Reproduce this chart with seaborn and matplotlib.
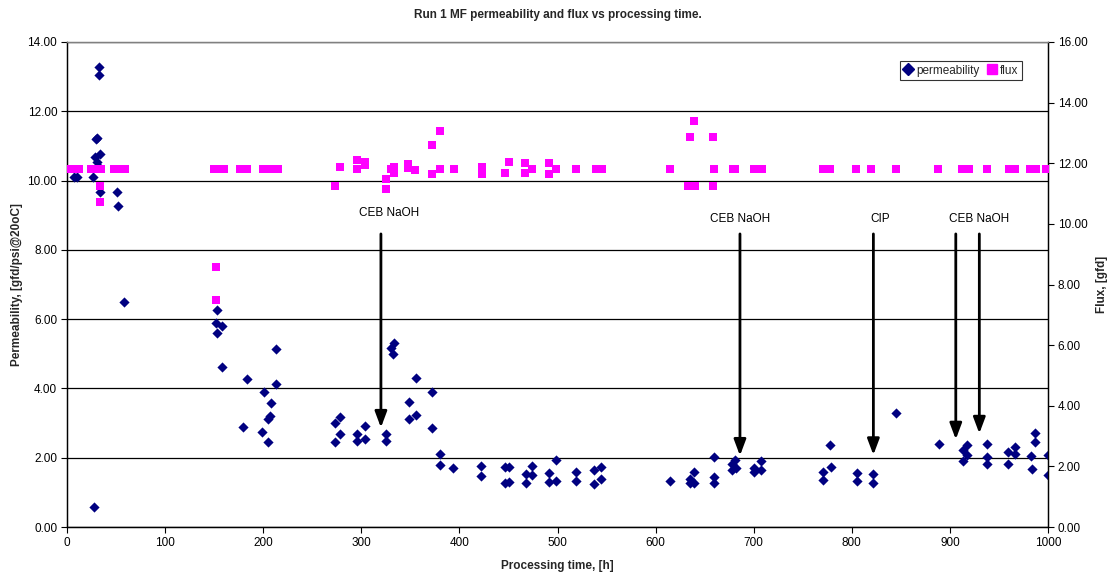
import matplotlib
matplotlib.use("Agg")
import matplotlib.pyplot as plt
import seaborn as sns
import pandas as pd
from matplotlib.lines import Line2D

# ---- data ----
perm_time = [7, 10, 26, 28, 32.5, 32.5, 31, 30, 29, 33.6, 31, 31.8, 33.9, 50.9, 52.2, 58,
             153.4, 152, 158.5, 152.4, 212.8, 158, 183.6, 213.5, 200.6, 208.4, 207, 205, 179.2, 198.9, 205.4,
             273, 278, 278, 273.6, 295.3, 295.3, 303.5, 303.5, 325, 325, 330, 333.3, 332.7, 355.4, 348.6,
             372.4, 348.6, 355.4, 372.4, 380, 380, 393.8, 422, 422,
             446, 451, 446, 451, 467.4, 474, 474, 467.4, 491, 498, 491, 498, 519, 519, 537.7, 544.5, 544.5, 537.7,
             615, 639.5, 634.7, 634.7, 639.5, 659.2, 659.2, 659.2, 681, 678, 678, 682, 707.7, 700, 700, 707.7,
             778, 778.7, 770.6, 770.6, 805, 805, 821.5, 821.5, 845, 888.6, 913, 917.8, 913, 917.8,
             938, 938, 937.5, 959.6, 966.4, 966.4, 959.6, 987, 987, 982.4, 983.4, 1000, 1000]
perm_value = [10.09, 10.09, 10.11, 0.59, 13.29, 13.05, 11.22, 11.19, 10.69, 10.76, 10.55, 10.42, 9.68, 9.66, 9.28, 6.50,
              6.25, 5.88, 5.80, 5.59, 5.13, 4.61, 4.26, 4.12, 3.90, 3.57, 3.21, 3.11, 2.90, 2.75, 2.46,
              3.01, 3.17, 2.68, 2.45, 2.68, 2.47, 2.92, 2.55, 2.68, 2.49, 5.16, 5.32, 4.99, 4.30, 3.62,
              3.89, 3.11, 3.22, 2.85, 2.10, 1.80, 1.71, 1.76, 1.47,
              1.73, 1.73, 1.28, 1.31, 1.53, 1.77, 1.50, 1.28, 1.57, 1.94, 1.30, 1.34, 1.60, 1.33, 1.65, 1.73, 1.39, 1.24,
              1.33, 1.58, 1.40, 1.26, 1.26, 2.01, 1.43, 1.26, 1.93, 1.81, 1.65, 1.69, 1.91, 1.71, 1.60, 1.65,
              2.37, 1.74, 1.60, 1.36, 1.57, 1.34, 1.53, 1.28, 3.30, 2.40, 2.22, 2.36, 1.91, 2.07,
              2.40, 2.01, 1.82, 2.17, 2.32, 2.11, 1.82, 2.70, 2.46, 2.05, 1.67, 2.08, 1.50]

flux_time = [0, 6, 12, 24, 30, 35, 48, 55, 59, 33.6, 33.6,
             150, 155, 160, 152, 152, 176, 183, 200, 205, 210, 215,
             278, 273, 295.6, 295.6, 303.5, 303.5, 325, 325, 330, 333, 333, 348, 348, 355, 372, 380, 372, 380, 394,
             423, 423, 446, 451, 467, 467, 474, 491, 491, 498, 519, 539, 545,
             615, 639, 635, 658.5, 660, 633, 640, 658.5, 679, 681, 700.6, 708,
             771, 778, 804.5, 820, 845, 888, 912, 919, 938, 960, 966, 982, 988, 998]
flux_value = [11.8, 11.8, 11.8, 11.8, 11.8, 11.8, 11.8, 11.8, 11.8, 11.25, 10.71,
              11.8, 11.8, 11.8, 8.57, 7.49, 11.8, 11.8, 11.8, 11.8, 11.8, 11.8,
              11.87, 11.26, 12.11, 11.8, 12.05, 11.94, 11.47, 11.15, 11.8, 11.87, 11.67, 11.97, 11.83, 11.78, 12.6, 13.08, 11.65, 11.8, 11.8,
              11.89, 11.65, 11.69, 12.05, 12.0, 11.69, 11.8, 12.0, 11.65, 11.8, 11.8, 11.8, 11.8,
              11.8, 13.41, 12.88, 12.88, 11.8, 11.25, 11.25, 11.25, 11.8, 11.8, 11.8, 11.8,
              11.8, 11.8, 11.8, 11.8, 11.8, 11.8, 11.8, 11.8, 11.8, 11.8, 11.8, 11.8, 11.8, 11.8]

event_labels = ["CEB NaOH", "CEB NaOH", "CIP", "CEB NaOH"]
event_label_x = [328, 686, 829, 930]
event_label_y = [9.06, 8.89, 8.89, 8.89]
arrow_x = [320, 686, 822, 906, 930]
arrow_tip = [2.87, 2.06, 2.08, 2.53, 2.70]
arrow_top = 8.46

x_ticks = list(range(0, 1001, 100))
left_ticks = [0, 2, 4, 6, 8, 10, 12, 14]
right_ticks = [0, 2, 4, 6, 8, 10, 12, 14, 16]

# ---- plot ----
sns.set_theme(style="white")
plt.rcParams['font.family'] = ['Liberation Sans', 'DejaVu Sans']

fig = plt.figure(figsize=(11.12, 5.75), dpi=100)
ax = fig.add_axes([67/1112, 1 - 527/575, (1048-67)/1112, (527-42)/575])
ax2 = ax.twinx()

perm_df = pd.DataFrame({"time": perm_time, "perm": perm_value})
flux_df = pd.DataFrame({"time": flux_time, "flux": flux_value})

sns.scatterplot(data=perm_df, x="time", y="perm", ax=ax, marker="D", s=27,
                color="#000080", linewidth=0, zorder=3, legend=False)
sns.scatterplot(data=flux_df, x="time", y="flux", ax=ax2, marker="s", s=32,
                color="#FF00FF", linewidth=0, zorder=3, legend=False)

ax.set_xlim(0, 1000)
ax.set_ylim(0, 14)
ax2.set_ylim(0, 16)
ax.set_xticks(x_ticks)
ax.set_xticklabels([str(t) for t in x_ticks])
ax.set_yticks(left_ticks)
ax.set_yticklabels([f"{v:.2f}" for v in left_ticks])
ax2.set_yticks(right_ticks)
ax2.set_yticklabels([f"{v:.2f}" for v in right_ticks])

for a in (ax, ax2):
    a.tick_params(axis="both", labelsize=8.5, colors="black", length=4, width=0.8, direction="out")
ax.tick_params(axis="x", bottom=True, pad=3)
ax.tick_params(axis="y", left=True, pad=3)
ax2.tick_params(axis="y", right=True, pad=3)

ax.yaxis.grid(True, color="black", linewidth=0.9)
ax.set_axisbelow(True)
for a in (ax, ax2):
    for side in ("left", "bottom", "right"):
        a.spines[side].set_color("black")
        a.spines[side].set_linewidth(0.9)
    a.spines["top"].set_color("#808080")
    a.spines["top"].set_linewidth(0.9)

ax.set_xlabel("Processing time, [h]", fontsize=8.5, fontweight="bold", labelpad=8)
ax.set_ylabel("Permeability, [gfd/psi@20oC]", fontsize=8.5, fontweight="bold", labelpad=3)
ax2.set_ylabel("Flux, [gfd]", fontsize=8.5, fontweight="bold", labelpad=6)
ax.set_title("Run 1 MF permeability and flux vs processing time.", fontsize=8.5,
             fontweight="bold", pad=17)

# event arrows and labels
for xa, tip in zip(arrow_x, arrow_tip):
    ax.annotate("", xy=(xa, tip), xytext=(xa, arrow_top),
                arrowprops=dict(arrowstyle="-|>,head_length=0.8,head_width=0.3",
                                color="black", lw=2, shrinkA=0, shrinkB=0),
                zorder=5)
for lab, lx, ly in zip(event_labels, event_label_x, event_label_y):
    ax.text(lx, ly, lab, ha="center", va="center", fontsize=8.5, color="black", zorder=5)

handles = [Line2D([], [], marker="D", color="#000080", linestyle="none", markersize=6),
           Line2D([], [], marker="s", color="#FF00FF", linestyle="none", markersize=7)]
leg = ax2.legend(handles, ["permeability", "flux"], loc="upper right",
                 bbox_to_anchor=(1022/1112, 1 - 61/575), bbox_transform=fig.transFigure,
                 ncol=2, fontsize=8.5, frameon=True, fancybox=False, handlelength=0.8,
                 handletextpad=0.3, columnspacing=0.6, borderpad=0.3, borderaxespad=0)
leg.get_frame().set_edgecolor("black")
leg.get_frame().set_linewidth(0.8)

fig.savefig("out.png", dpi=100)
